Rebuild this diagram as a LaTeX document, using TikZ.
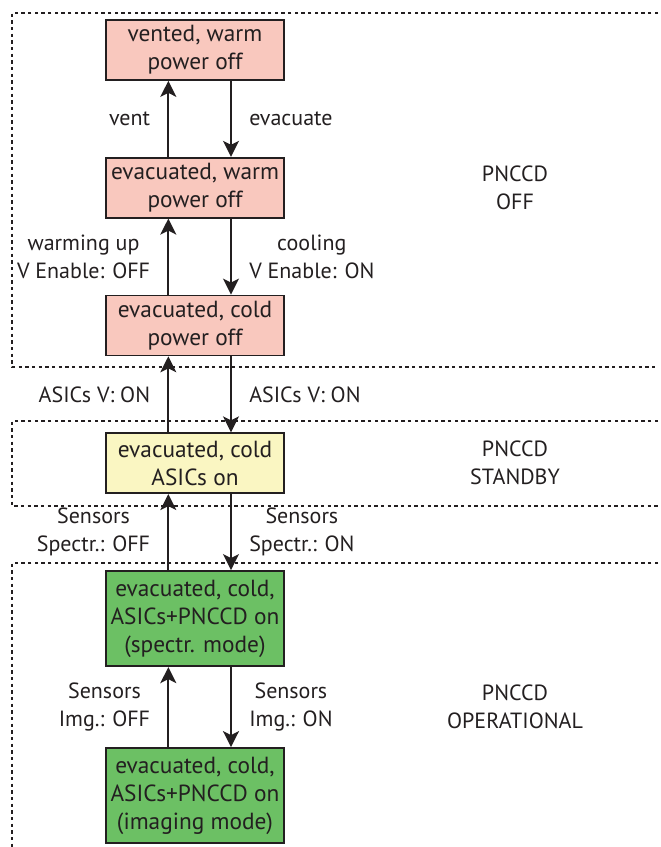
\documentclass[tikz,border=0pt]{standalone}
\usepackage{fontspec}
\setsansfont{PT Sans}
\usetikzlibrary{positioning}
\usetikzlibrary{arrows.meta}
\usetikzlibrary{calc}
\definecolor{figRosa}{RGB}{249,200,190}
\definecolor{figAmarillo}{RGB}{250,246,194}
\definecolor{figVerde}{RGB}{108,192,100}
\definecolor{figTexto}{RGB}{35,31,32}
\tikzset{
  bloque/.style={
    rectangle, draw=figTexto, line width=1.3pt,
    fill=figRosa, minimum height=45pt, minimum width=134pt,
    align=center, font=\sffamily\fontsize{17.5}{21}\selectfont,
    text=figTexto, inner sep=1pt
  },
  bloquea/.style={bloque, fill=figAmarillo},
  bloquev/.style={bloque, fill=figVerde, minimum height=71.5pt},
  flecha/.style={-{Stealth[length=12pt,width=12pt,inset=3pt]}, line width=1.4pt, draw=figTexto},
  etiqueta/.style={align=center, font=\sffamily\fontsize{16.5}{21}\selectfont, text=figTexto, inner sep=0pt},
  grupo/.style={draw=figTexto, line width=1.3pt, dash pattern=on 2.6pt off 2.4pt}
}

\begin{document}
\begin{tikzpicture}[x=0.75pt, y=-0.75pt, node distance=57pt]
  \useasboundingbox (0,0) rectangle (661,847);

  % zonas
  \draw[grupo] (658,13) -- (12,13) -- (12,367) -- (658,367);
  \draw[grupo] (658,421) -- (12,421) -- (12,506) -- (658,506);
  \draw[grupo] (658,563) -- (12,563) -- (12,850);

  % estados
  \node[bloque] (b1) at (195,50) {vented, warm\\power off};
  \node[bloque, below=of b1] (b2) {evacuated, warm\\power off};
  \node[bloque, below=of b2] (b3) {evacuated, cold\\power off};
  \node[bloquea, below=of b3] (b4) {evacuated, cold\\ASICs on};
  \node[bloquev, below=of b4] (b5) {evacuated, cold,\\ASICs+PNCCD on\\(spectr. mode)};
  \node[bloquev, below=60pt of b5] (b6) {evacuated, cold,\\ASICs+PNCCD on\\(imaging mode)};

  % modos
  \node[etiqueta] (mOff) at ([xshift=240pt]b2) {PNCCD\\OFF};
  \node[etiqueta] (mStb) at ([xshift=240pt]b4) {PNCCD\\STANDBY};
  \node[etiqueta] (mOp) at ([xshift=240pt]$(b5)!0.5!(b6)$) {PNCCD\\OPERATIONAL};

  % transiciones
  \draw[flecha] ([xshift=-20pt]b2.north) -- ([xshift=-20pt]b1.south)
    node[etiqueta, midway, left=13pt] (t1) {vent};
  \draw[flecha] ([xshift=27pt]b1.south) -- ([xshift=27pt]b2.north)
    node[etiqueta, midway, right=13pt] (t2) {evacuate};
  \draw[flecha] ([xshift=-20pt]b3.north) -- ([xshift=-20pt]b2.south)
    node[etiqueta, midway, left=13pt] (t3) {warming up\\V Enable: OFF};
  \draw[flecha] ([xshift=27pt]b2.south) -- ([xshift=27pt]b3.north)
    node[etiqueta, midway, right=13pt] (t4) {cooling\\V Enable: ON};
  \draw[flecha] ([xshift=-20pt]b4.north) -- ([xshift=-20pt]b3.south)
    node[etiqueta, midway, left=13pt] (t5) {ASICs V: ON};
  \draw[flecha] ([xshift=27pt]b3.south) -- ([xshift=27pt]b4.north)
    node[etiqueta, midway, right=13pt] (t6) {ASICs V: ON};
  \draw[flecha] ([xshift=-20pt]b5.north) -- ([xshift=-20pt]b4.south)
    node[etiqueta, midway, left=13pt] (t7) {Sensors\\Spectr.: OFF};
  \draw[flecha] ([xshift=27pt]b4.south) -- ([xshift=27pt]b5.north)
    node[etiqueta, midway, right=13pt] (t8) {Sensors\\Spectr.: ON};
  \draw[flecha] ([xshift=-20pt]b6.north) -- ([xshift=-20pt]b5.south)
    node[etiqueta, midway, left=13pt] (t9) {Sensors\\Img.: OFF};
  \draw[flecha] ([xshift=27pt]b5.south) -- ([xshift=27pt]b6.north)
    node[etiqueta, midway, right=13pt] (t10) {Sensors\\Img.: ON};
\end{tikzpicture}
\end{document}
